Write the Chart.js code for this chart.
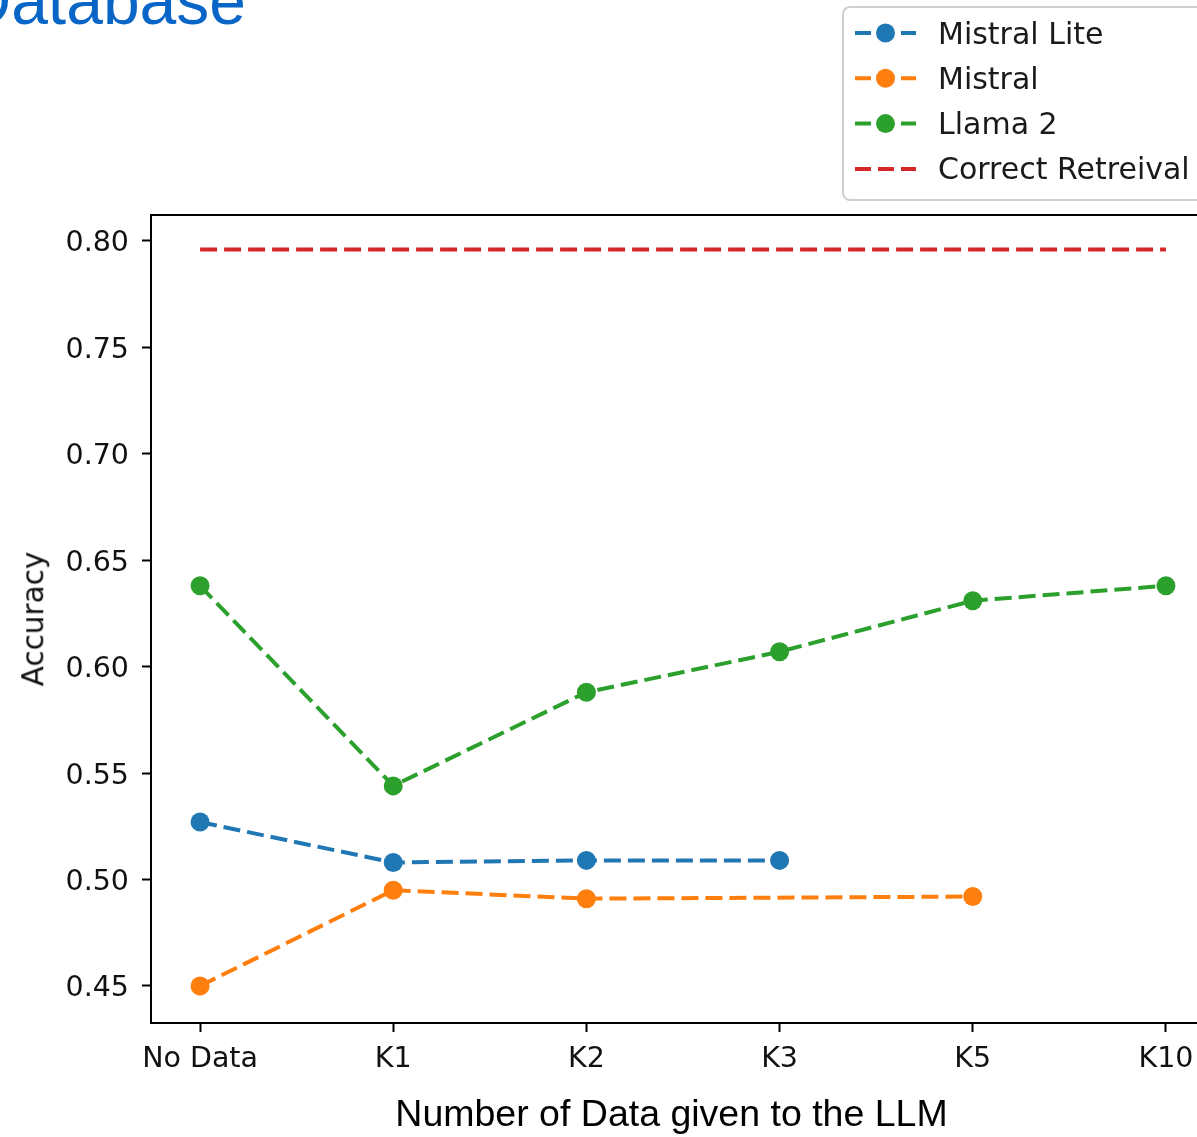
<!DOCTYPE html>
<html>
<head>
<meta charset="utf-8">
<script src="https://cdn.jsdelivr.net/npm/chart.js@4"></script>
<style>
  html, body { margin: 0; padding: 0; background: #fff; }
  body { width: 1197px; height: 1137px; overflow: hidden; position: relative; }
  #wrap { position: absolute; left: 0; top: 0; width: 1260px; height: 1137px; }
  .txt { position: absolute; white-space: nowrap; }
  #slideTitle { left: -36.5px; top: -32px; font-family: "Liberation Sans", Arial, sans-serif; font-size: 66px; line-height: 66px; color: #0a66c6; }
  #xTitle { left: 0; width: 1343px; top: 1095px; text-align: center; font-family: "Liberation Sans", Arial, sans-serif; font-size: 37.5px; line-height: 37.5px; color: #000; }
  #yTitle { left: 34px; top: 619px; font-family: "DejaVu Sans", sans-serif; font-size: 29.5px; line-height: 29.5px; color: #111; transform: translate(-50%, -50%) rotate(-90deg); }
</style>
</head>
<body>
<div class="txt" id="slideTitle">Database</div>
<div id="wrap"><canvas id="grafico" width="1260" height="1137"></canvas></div>
<div class="txt" id="yTitle">Accuracy</div>
<div class="txt" id="xTitle">Number of Data given to the LLM</div>
<script>
const categorias = ["No Data", "K1", "K2", "K3", "K5", "K10"];
const mistralLite = [0.527, 0.508, 0.509, 0.509, null, null];
const mistral = [0.450, 0.495, 0.491, null, 0.492, null];
const llama2 = [0.638, 0.544, 0.588, 0.607, 0.631, 0.638];
const correctRetrieval = [0.796, 0.796, 0.796, 0.796, 0.796, 0.796];
const yTicks = [0.45, 0.50, 0.55, 0.60, 0.65, 0.70, 0.75, 0.80];

// pontos {x, y} a partir das categorias, sem os vazios
const pontos = vals => vals.map((v, i) => ({ x: i, y: v })).filter(p => p.y !== null);

const estilo = (cor, raio) => ({
  borderColor: cor,
  backgroundColor: cor,
  borderWidth: 4,
  borderDash: [17, 7],
  pointRadius: raio,
  pointHoverRadius: raio,
  pointBackgroundColor: cor,
  pointBorderWidth: 0,
  tension: 0,
  fill: false
});

// moldura completa como no matplotlib
const moldura = {
  id: "moldura",
  afterDatasetsDraw(chart) {
    const { ctx, chartArea: a } = chart;
    ctx.save();
    ctx.strokeStyle = "#000";
    ctx.lineWidth = 2;
    ctx.strokeRect(a.left, a.top, a.right - a.left, a.bottom - a.top);
    ctx.restore();
  }
};

// legenda no canto superior direito
const legenda = {
  id: "legenda",
  afterDraw(chart) {
    const { ctx } = chart;
    const x0 = 843, y0 = 7, w = 420, h = 193, r = 7;
    ctx.save();
    ctx.beginPath();
    ctx.roundRect(x0, y0, w, h, r);
    ctx.fillStyle = "rgba(255,255,255,0.85)";
    ctx.fill();
    ctx.strokeStyle = "#d0d0d0";
    ctx.lineWidth = 2;
    ctx.stroke();

    chart.data.datasets.forEach((ds, i) => {
      const cy = 33 + i * 45.3;
      ctx.strokeStyle = ds.borderColor;
      ctx.lineWidth = 4;
      ctx.setLineDash([16, 7]);
      ctx.beginPath();
      ctx.moveTo(855, cy);
      ctx.lineTo(916, cy);
      ctx.stroke();
      ctx.setLineDash([]);
      if (ds.pointRadius > 0) {
        ctx.fillStyle = ds.borderColor;
        ctx.beginPath();
        ctx.arc(885.5, cy, ds.pointRadius, 0, Math.PI * 2);
        ctx.fill();
      }
      ctx.fillStyle = "#1a1a1a";
      ctx.font = '30px "DejaVu Sans"';
      ctx.textBaseline = "alphabetic";
      ctx.textAlign = "left";
      ctx.fillText(ds.label, 938, cy + 10.5);
    });
    ctx.restore();
  }
};

const fonteTick = { family: "DejaVu Sans", size: 28.5 };

new Chart(document.getElementById("grafico").getContext("2d"), {
  type: "line",
  data: {
    datasets: [
      { label: "Mistral Lite", data: pontos(mistralLite), order: 3, ...estilo("#1f77b4", 9.5) },
      { label: "Mistral", data: pontos(mistral), order: 2, ...estilo("#ff7f0e", 9.5) },
      { label: "Llama 2", data: pontos(llama2), order: 1, ...estilo("#2ca02c", 9.5) },
      { label: "Correct Retreival", data: pontos(correctRetrieval), order: 0, ...estilo("#d62728", 0) }
    ]
  },
  options: {
    responsive: false,
    animation: false,
    devicePixelRatio: 1,
    layout: { padding: { top: 215, right: 45, left: 0, bottom: 0 } },
    plugins: { legend: { display: false }, tooltip: { enabled: false }, title: { display: false } },
    scales: {
      x: {
        type: "linear",
        min: -0.254,
        max: 5.254,
        afterBuildTicks: s => { s.ticks = categorias.map((_, i) => ({ value: i })); },
        afterFit: s => { s.height = 114; },
        ticks: {
          callback: v => categorias[v],
          font: fonteTick,
          color: "#111",
          padding: 10,
          maxRotation: 0,
          autoSkip: false
        },
        grid: { drawOnChartArea: false, drawTicks: true, tickLength: 9, tickWidth: 2, tickColor: "#000" },
        border: { display: true, color: "#000", width: 2 }
      },
      y: {
        type: "linear",
        min: 0.4326,
        max: 0.8122,
        afterBuildTicks: s => { s.ticks = yTicks.map(v => ({ value: v })); },
        afterFit: s => { s.width = 151; },
        ticks: {
          callback: v => v.toFixed(2),
          font: fonteTick,
          color: "#111",
          padding: 13,
          labelOffset: 3
        },
        grid: { drawOnChartArea: false, drawTicks: true, tickLength: 9, tickWidth: 2, tickColor: "#000" },
        border: { display: true, color: "#000", width: 2 }
      }
    }
  },
  plugins: [moldura, legenda]
});
</script>
</body>
</html>
